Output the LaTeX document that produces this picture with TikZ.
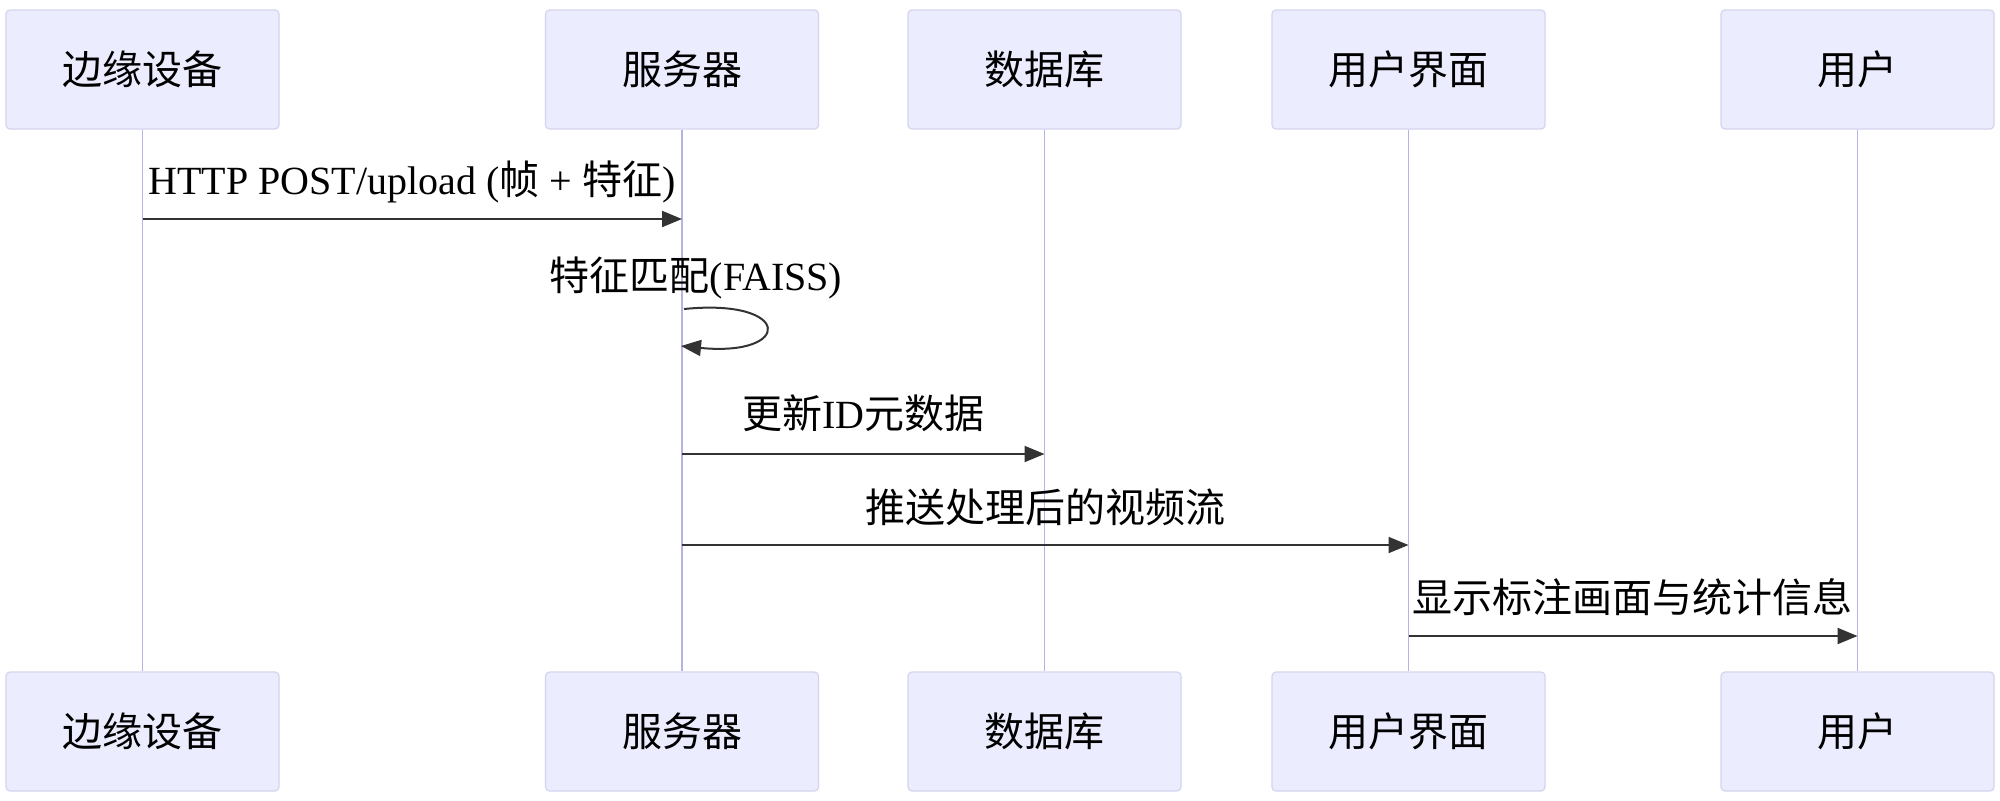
\documentclass[tikz,border=0pt]{standalone}
\usepackage{fontspec}
\setmainfont{Liberation Serif}
\newfontfamily\cjk{Noto Sans CJK SC}
\usetikzlibrary{arrows.meta}
\definecolor{boxfill}{HTML}{ECECFF}
\definecolor{boxborder}{HTML}{D4D4EE}
\definecolor{lifecol}{HTML}{B4B4E4}
\definecolor{arrowcol}{HTML}{333333}
\tikzset{
  actorbox/.style={draw=boxborder, line width=0.6pt, fill=boxfill, rounded corners=2pt,
    minimum width=136.5pt, minimum height=59.5pt, inner sep=0pt,
    font=\fontsize{20pt}{24pt}\selectfont},
  lifeline/.style={draw=lifecol, line width=0.7pt},
  msgline/.style={draw=arrowcol, line width=1pt, -{Triangle[length=10pt,width=8pt]}},
  msglabel/.style={anchor=base, inner sep=0pt, font=\fontsize{20pt}{24pt}\selectfont}
}
\begin{document}
\begin{tikzpicture}[x=0.5pt,y=-0.5pt]
\useasboundingbox (0,0) rectangle (2000,800);
\fill[white] (0,0) rectangle (2000,800);
% top actors
\node[actorbox] (t1) at (142.5,69.5) {\cjk 边缘设备};
\node[actorbox] (t2) at (682,69.5) {\cjk 服务器};
\node[actorbox] (t3) at (1044.5,69.5) {\cjk 数据库};
\node[actorbox] (t4) at (1408.5,69.5) {\cjk 用户界面};
\node[actorbox] (t5) at (1857.5,69.5) {\cjk 用户};
% bottom actors
\node[actorbox] (b1) at (142.5,731.5) {\cjk 边缘设备};
\node[actorbox] (b2) at (682,731.5) {\cjk 服务器};
\node[actorbox] (b3) at (1044.5,731.5) {\cjk 数据库};
\node[actorbox] (b4) at (1408.5,731.5) {\cjk 用户界面};
\node[actorbox] (b5) at (1857.5,731.5) {\cjk 用户};
% lifelines
\draw[lifeline] (t1.south) -- (b1.north);
\draw[lifeline] (t2.south) -- (b2.north);
\draw[lifeline] (t3.south) -- (b3.north);
\draw[lifeline] (t4.south) -- (b4.north);
\draw[lifeline] (t5.south) -- (b5.north);
% message anchor coordinates
\coordinate (m1s) at (142.5,219);
\coordinate (m1e) at (682,219);
\coordinate (s1) at (684,309);
\coordinate (s2) at (681,346);
\coordinate (m3s) at (682,454);
\coordinate (m3e) at (1044.5,454);
\coordinate (m4s) at (682,545);
\coordinate (m4e) at (1408.5,545);
\coordinate (m5s) at (1408.5,636);
\coordinate (m5e) at (1857.5,636);
% messages
\draw[msgline] (m1s) -- (m1e);
\node[msglabel] (l1) at (412,194) {HTTP POST/upload ({\cjk 帧} + {\cjk 特征})};
\draw[msgline] (s1) .. controls (793,298) and (793,357) .. (s2);
\node[msglabel] (l2) at (696,290) {{\cjk 特征匹配}(FAISS)};
\draw[msgline] (m3s) -- (m3e);
\node[msglabel] (l3) at (863.5,428) {{\cjk 更新}ID{\cjk 元数据}};
\draw[msgline] (m4s) -- (m4e);
\node[msglabel] (l4) at (1045.5,522) {\cjk 推送处理后的视频流};
\draw[msgline] (m5s) -- (m5e);
\node[msglabel] (l5) at (1632,612) {\cjk 显示标注画面与统计信息};
\end{tikzpicture}
\end{document}
